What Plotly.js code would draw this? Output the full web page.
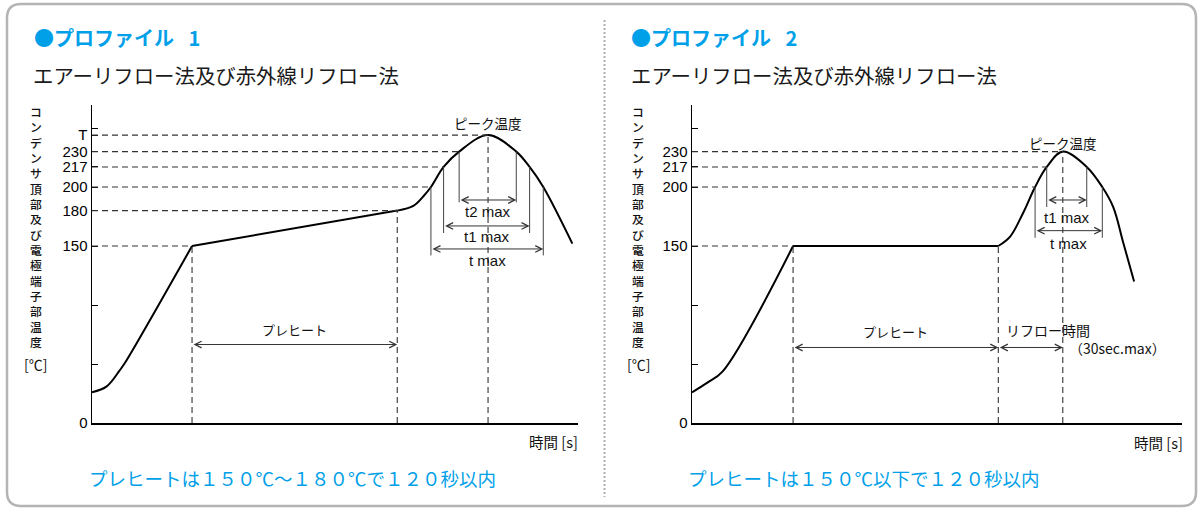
<!DOCTYPE html>
<html><head><meta charset="utf-8">
<script src="https://cdn.plot.ly/plotly-3.0.1.min.js"></script>
<style>html,body{margin:0;padding:0;background:#fff;}#chart{width:1198px;height:508px;}</style>
</head><body><div id="chart"></div>
<script>
// ---------- Profile 1 data (time [s], temperature [°C]) ----------
const p1RampTime = [0, 8.6, 16.4, 19.3, 58.5];
const p1RampTemp = [26, 31, 45, 51, 150];
const p1PreTime = [58.5, 178.5];
const p1PreTemp = [150, 180];
const p1ReflowTime = [178.5, 187.9, 193.7, 198.2, 205.6, 214.7, 231.6, 248.1, 255.9, 263.9, 280.9];
const p1ReflowTemp = [180, 184, 192, 200, 217, 230, 244, 230, 217, 200, 152];
const p1LevelTemps = [150, 180, 200, 217, 230, 244];
const p1LevelTimes = [58.5, 178.5, 198.2, 205.6, 214.7, 231.6];
const p1MarkTimes = [58.5, 178.5, 231.6];
const p1MarkTemps = [150, 180, 244];
const p1WinNames = ['t2 max', 't1 max', 't max'];
const p1WinTemps = [230, 217, 200];
const p1WinStart = [214.7, 205.6, 198.2];
const p1WinEnd = [248.1, 255.9, 263.9];
const p1TickVals = [0, 50, 100, 150, 180, 200, 217, 230, 244, 250];
const p1TickText = ['0', '', '', '150', '180', '200', '217', '230', 'T', ''];

// ---------- Profile 2 data ----------
const p2RampTime = [0, 8.8, 17.8, 59.1];
const p2RampTemp = [26, 34, 43.5, 150];
const p2PreTime = [59.1, 179.1];
const p2PreTemp = [150, 150];
const p2ReflowTime = [179.1, 186, 193.6, 200.6, 207.4, 216.8, 230.8, 239.9, 246.3, 252.2, 258.5];
const p2ReflowTemp = [150, 158, 178, 200, 217, 230, 217, 200, 183, 152.5, 120];
const p2LevelTemps = [150, 200, 217, 230];
const p2LevelTimes = [59.1, 200.6, 207.4, 216.8];
const p2MarkTimes = [59.1, 179.1, 216.8];
const p2MarkTemps = [150, 150, 230];
const p2WinNames = ['t1 max', 't max'];
const p2WinTemps = [217, 200];
const p2WinStart = [207.4, 200.6];
const p2WinEnd = [230.8, 239.9];
const p2TickVals = [0, 50, 100, 150, 200, 217, 230, 250];
const p2TickText = ['0', '', '', '150', '200', '217', '230', ''];

const W = 1198, H = 508;
const BLUE = '#00a0e9';
const CJK = '"Noto Sans CJK JP", sans-serif';
const LAT = '"Liberation Sans", Arial, sans-serif';
const DASH = '6px,4px';
const px = v => v / W, py = v => 1 - v / H;

const curve = (xs, ys, xa, ya, shape) => ({
  x: xs, y: ys, xaxis: xa, yaxis: ya, type: 'scatter', mode: 'lines',
  line: {color: '#000', width: 2, shape: shape, smoothing: 1}, hoverinfo: 'skip', showlegend: false
});
const data = [
  curve(p1RampTime, p1RampTemp, 'x', 'y', 'spline'),
  curve(p1PreTime, p1PreTemp, 'x', 'y', 'linear'),
  curve(p1ReflowTime, p1ReflowTemp, 'x', 'y', 'spline'),
  curve(p2RampTime, p2RampTemp, 'x2', 'y2', 'spline'),
  curve(p2PreTime, p2PreTemp, 'x2', 'y2', 'linear'),
  curve(p2ReflowTime, p2ReflowTemp, 'x2', 'y2', 'spline')
];

const shapes = [];
const annotations = [];

// frame
const bx0 = 7, by0 = 4, bx1 = 1196, by1 = 506, r = 14;
const P = (x, y) => px(x) + ',' + py(y);
shapes.push({type: 'path', xref: 'paper', yref: 'paper', layer: 'below',
  path: 'M' + P(bx0 + r, by0) + 'L' + P(bx1 - r, by0) + 'Q' + P(bx1, by0) + ' ' + P(bx1, by0 + r) +
        'L' + P(bx1, by1 - r) + 'Q' + P(bx1, by1) + ' ' + P(bx1 - r, by1) +
        'L' + P(bx0 + r, by1) + 'Q' + P(bx0, by1) + ' ' + P(bx0, by1 - r) +
        'L' + P(bx0, by0 + r) + 'Q' + P(bx0, by0) + ' ' + P(bx0 + r, by0) + 'Z',
  line: {color: '#b4b4b4', width: 2.5}});
shapes.push({type: 'line', xref: 'paper', yref: 'paper', x0: px(604.5), x1: px(604.5), y0: py(20), y1: py(497),
  line: {color: '#b0b0b0', width: 2, dash: '2px,2px'}});

function buildPanel(xa, ya, lvT, lvX, mkX, mkT, wN, wT, wS, wE, winArrowT, winLineT, winLabelT) {
  const xr = xa, yr = ya;
  lvT.forEach((t, i) => shapes.push({type: 'line', xref: xr, yref: yr, x0: 0, x1: lvX[i], y0: t, y1: t,
    line: {color: '#333', width: 1.1, dash: DASH}}));
  mkX.forEach((x, i) => shapes.push({type: 'line', xref: xr, yref: yr, x0: x, x1: x, y0: 0, y1: mkT[i],
    line: {color: '#333', width: 1.1, dash: DASH}}));
  wN.forEach((n, i) => {
    [wS[i], wE[i]].forEach(x => shapes.push({type: 'line', xref: xr, yref: yr, x0: x, x1: x, y0: wT[i], y1: winLineT[i],
      line: {color: '#444', width: 1}}));
    annotations.push(dblArrow(xr, yr, wS[i], wE[i], winArrowT[i]));
    annotations.push({xref: xr, yref: yr, x: (wS[i] + wE[i]) / 2, y: winLabelT[i], text: n, showarrow: false,
      font: {family: LAT, size: 15, color: '#111'}});
  });
}
function dblArrow(xr, yr, x0, x1, t) {
  return {xref: xr, yref: yr, axref: xr, ayref: yr, x: x1, y: t, ax: x0, ay: t, text: '', showarrow: true,
    arrowside: 'end+start', arrowhead: 5, startarrowhead: 5, arrowsize: 1.3, startarrowsize: 1.3,
    arrowwidth: 1, arrowcolor: '#333', standoff: 0, startstandoff: 0};
}

buildPanel('x', 'y', p1LevelTemps, p1LevelTimes, p1MarkTimes, p1MarkTemps, p1WinNames, p1WinTemps, p1WinStart, p1WinEnd,
  [189, 167, 147.5], [187, 161, 142], [179, 158, 137.5]);
buildPanel('x2', 'y2', p2LevelTemps, p2LevelTimes, p2MarkTimes, p2MarkTemps, p2WinNames, p2WinTemps, p2WinStart, p2WinEnd,
  [189, 163], [183, 157], [174.5, 152.5]);

// preheat / reflow arrows
annotations.push(dblArrow('x', 'y', p1PreTime[0], p1PreTime[1], 66.5));
annotations.push({xref: 'x', yref: 'y', x: (p1PreTime[0] + p1PreTime[1]) / 2, y: 79, text: 'プレヒート', showarrow: false,
  font: {family: CJK, size: 13, color: '#111'}});
annotations.push(dblArrow('x2', 'y2', p2PreTime[0], p2PreTime[1], 64));
annotations.push(dblArrow('x2', 'y2', p2PreTime[1], p2MarkTimes[2], 64));
annotations.push({xref: 'x2', yref: 'y2', x: (p2PreTime[0] + p2PreTime[1]) / 2, y: 77.5, text: 'プレヒート', showarrow: false,
  font: {family: CJK, size: 13, color: '#111'}});
annotations.push({xref: 'x2', yref: 'y2', x: 208, y: 79, text: 'リフロー時間', showarrow: false,
  font: {family: CJK, size: 14, color: '#111'}});
annotations.push({xref: 'x2', yref: 'y2', x: 219, y: 63.5, xanchor: 'left', text: '（30sec.max）', showarrow: false,
  font: {family: CJK, size: 14, color: '#111'}});
// peak labels
annotations.push({xref: 'x', yref: 'y', x: p1MarkTimes[2], y: 254, text: 'ピーク温度', showarrow: false,
  font: {family: CJK, size: 13.5, color: '#111'}});
annotations.push({xref: 'x2', yref: 'y2', x: p2MarkTimes[2], y: 237.5, text: 'ピーク温度', showarrow: false,
  font: {family: CJK, size: 13.5, color: '#111'}});

// headings and texts (paper)
const pa = (x, y, text, opts) => Object.assign({xref: 'paper', yref: 'paper', x: px(x), y: py(y), text: text,
  showarrow: false, xanchor: 'left', yanchor: 'middle'}, opts);
const yTitle = Array.from('コンデンサ頂部及び電極端子部温度').join('<br>');
[[0, 'プロファイル\u2002 1', 'プレヒートは１５０℃～１８０℃で１２０秒以内'], [598, 'プロファイル\u2002 2', 'プレヒートは１５０℃以下で１２０秒以内']]
  .forEach(([dx, title, note], k) => {
    annotations.push(pa(32 + dx - (k ? 1 : 0), 38, '●' + title, {font: {family: CJK, size: 20, color: BLUE, weight: 'bold'}}));
    annotations.push(pa(31 + dx, 75, 'エアーリフロー法及び赤外線リフロー法', {font: {family: CJK, size: 20.4, color: '#1a1a1a'}}));
    annotations.push(pa(87 + dx - (k ? -1 : 0), 478, note, {font: {family: CJK, size: 18.5, color: BLUE}}));
    annotations.push(pa(k ? 1185 : 580, k ? 442 : 441, '時間 [s]', {xanchor: 'right', font: {family: CJK, size: 14.5, color: '#111'}}));
    const cx = k ? 638 : 35.5;
    annotations.push(pa(cx, 226, yTitle, {xanchor: 'center', align: 'center',
      font: {family: CJK, size: 11.8, color: '#111', weight: 500}}));
    annotations.push(pa(cx, 364, '[℃]', {xanchor: 'center', font: {family: CJK, size: 14, color: '#111'}}));
  });

const yBase = {range: [0, 269.5], domain: [(H - 423) / H, (H - 105) / H], showgrid: false, zeroline: false,
  showline: true, linecolor: '#000', linewidth: 1.5, ticks: 'inside', ticklen: 6, tickcolor: '#000', tickwidth: 1,
  tickmode: 'array', tickfont: {family: LAT, size: 15, color: '#000'}, fixedrange: true};
const xBase = {showgrid: false, zeroline: false, showline: true, linecolor: '#000', linewidth: 1.5,
  showticklabels: false, ticks: '', fixedrange: true};

const layout = {
  width: W, height: H, margin: {l: 0, r: 0, t: 0, b: 0}, paper_bgcolor: '#fff', plot_bgcolor: 'rgba(0,0,0,0)',
  showlegend: false,
  xaxis: Object.assign({}, xBase, {domain: [92 / W, 578 / W], range: [0, 284.2], anchor: 'y'}),
  yaxis: Object.assign({}, yBase, {anchor: 'x', tickvals: p1TickVals, ticktext: p1TickText}),
  xaxis2: Object.assign({}, xBase, {domain: [692 / W, 1182 / W], range: [0, 286.5], anchor: 'y2'}),
  yaxis2: Object.assign({}, yBase, {anchor: 'x2', tickvals: p2TickVals, ticktext: p2TickText}),
  shapes: shapes, annotations: annotations
};
Plotly.newPlot('chart', data, layout, {staticPlot: true, displayModeBar: false});
</script></body></html>
